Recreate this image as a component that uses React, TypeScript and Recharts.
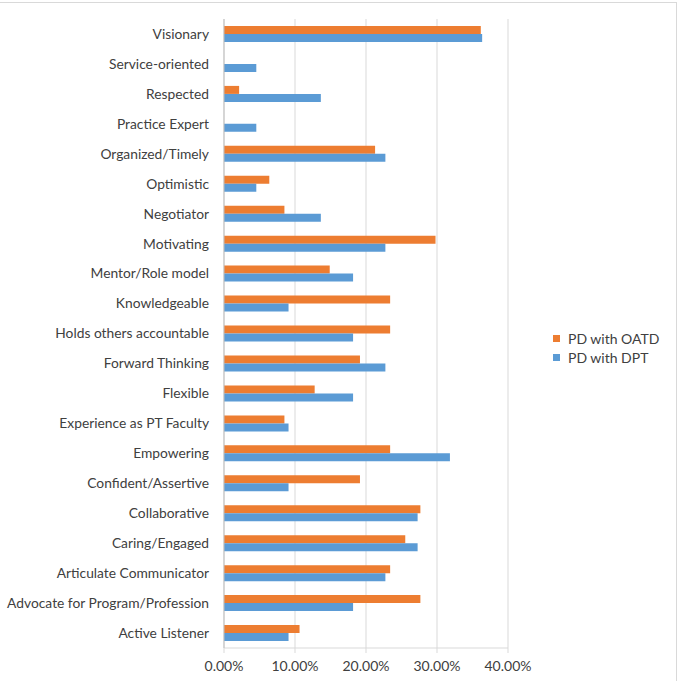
import { BarChart, Bar, XAxis, YAxis, CartesianGrid } from "recharts";

const categories = [
  "Visionary",
  "Service-oriented",
  "Respected",
  "Practice Expert",
  "Organized/Timely",
  "Optimistic",
  "Negotiator",
  "Motivating",
  "Mentor/Role model",
  "Knowledgeable",
  "Holds others accountable",
  "Forward Thinking",
  "Flexible",
  "Experience as PT Faculty",
  "Empowering",
  "Confident/Assertive",
  "Collaborative",
  "Caring/Engaged",
  "Articulate Communicator",
  "Advocate for Program/Profession",
  "Active Listener",
];

// fractions, same order as categories
const oatd = [
  0.3617, 0, 0.0213, 0, 0.2128, 0.0638, 0.0851, 0.2979, 0.1489, 0.234, 0.234,
  0.1915, 0.1277, 0.0851, 0.234, 0.1915, 0.2766, 0.2553, 0.234, 0.2766, 0.1064,
];
const dpt = [
  0.3636, 0.0455, 0.1364, 0.0455, 0.2273, 0.0455, 0.1364, 0.2273, 0.1818,
  0.0909, 0.1818, 0.2273, 0.1818, 0.0909, 0.3182, 0.0909, 0.2727, 0.2727,
  0.2273, 0.1818, 0.0909,
];
const xTicks = [0, 0.1, 0.2, 0.3, 0.4];

const ORANGE = "#ED7D31";
const BLUE = "#5B9BD5";
const FONT = "Lato, 'Open Sans', sans-serif";

const data = categories.map((name, i) => ({ name, oatd: oatd[i], dpt: dpt[i] }));

const legendItems = [
  { label: "PD with OATD", color: ORANGE },
  { label: "PD with DPT", color: BLUE },
];

export default function App() {
  return (
    <div
      style={{
        position: "absolute",
        left: 0,
        top: 0,
        width: 681,
        height: 681,
        background: "#fff",
      }}
    >
      <div
        style={{
          position: "absolute",
          left: -2,
          top: 2,
          width: 679,
          height: 685,
          border: "1px solid #d9d9d9",
          boxSizing: "border-box",
        }}
      />
      <BarChart
        width={681}
        height={681}
        layout="vertical"
        data={data}
        margin={{ top: 19, right: 173, left: 0, bottom: 3 }}
        barGap={0}
      >
        <CartesianGrid horizontal={false} stroke="#d9d9d9" />
        <XAxis
          type="number"
          domain={[0, 0.4]}
          ticks={xTicks}
          interval={0}
          tickFormatter={(v) => `${(v * 100).toFixed(2)}%`}
          tick={{ fontSize: 14, fill: "#404040", fontFamily: FONT }}
          axisLine={{ stroke: "#d9d9d9" }}
          tickLine={{ stroke: "#d9d9d9" }}
          tickSize={5}
          tickMargin={8}
          height={30}
        />
        <YAxis
          type="category"
          dataKey="name"
          width={224}
          interval={0}
          tick={{ fontSize: 13.8, fill: "#404040", fontFamily: FONT }}
          axisLine={{ stroke: "#bfbfbf" }}
          tickLine={false}
          tickMargin={9}
        />
        <Bar dataKey="oatd" name="PD with OATD" fill={ORANGE} barSize={8} isAnimationActive={false} />
        <Bar dataKey="dpt" name="PD with DPT" fill={BLUE} barSize={8} isAnimationActive={false} />
      </BarChart>
      <div
        style={{
          position: "absolute",
          left: 553,
          top: 329,
          fontFamily: FONT,
          fontSize: 14,
          color: "#404040",
        }}
      >
        {legendItems.map((it) => (
          <div key={it.label} style={{ display: "flex", alignItems: "center", height: 19 }}>
            <span
              style={{ width: 7, height: 7, background: it.color, marginRight: 8, display: "inline-block" }}
            />
            {it.label}
          </div>
        ))}
      </div>
    </div>
  );
}
